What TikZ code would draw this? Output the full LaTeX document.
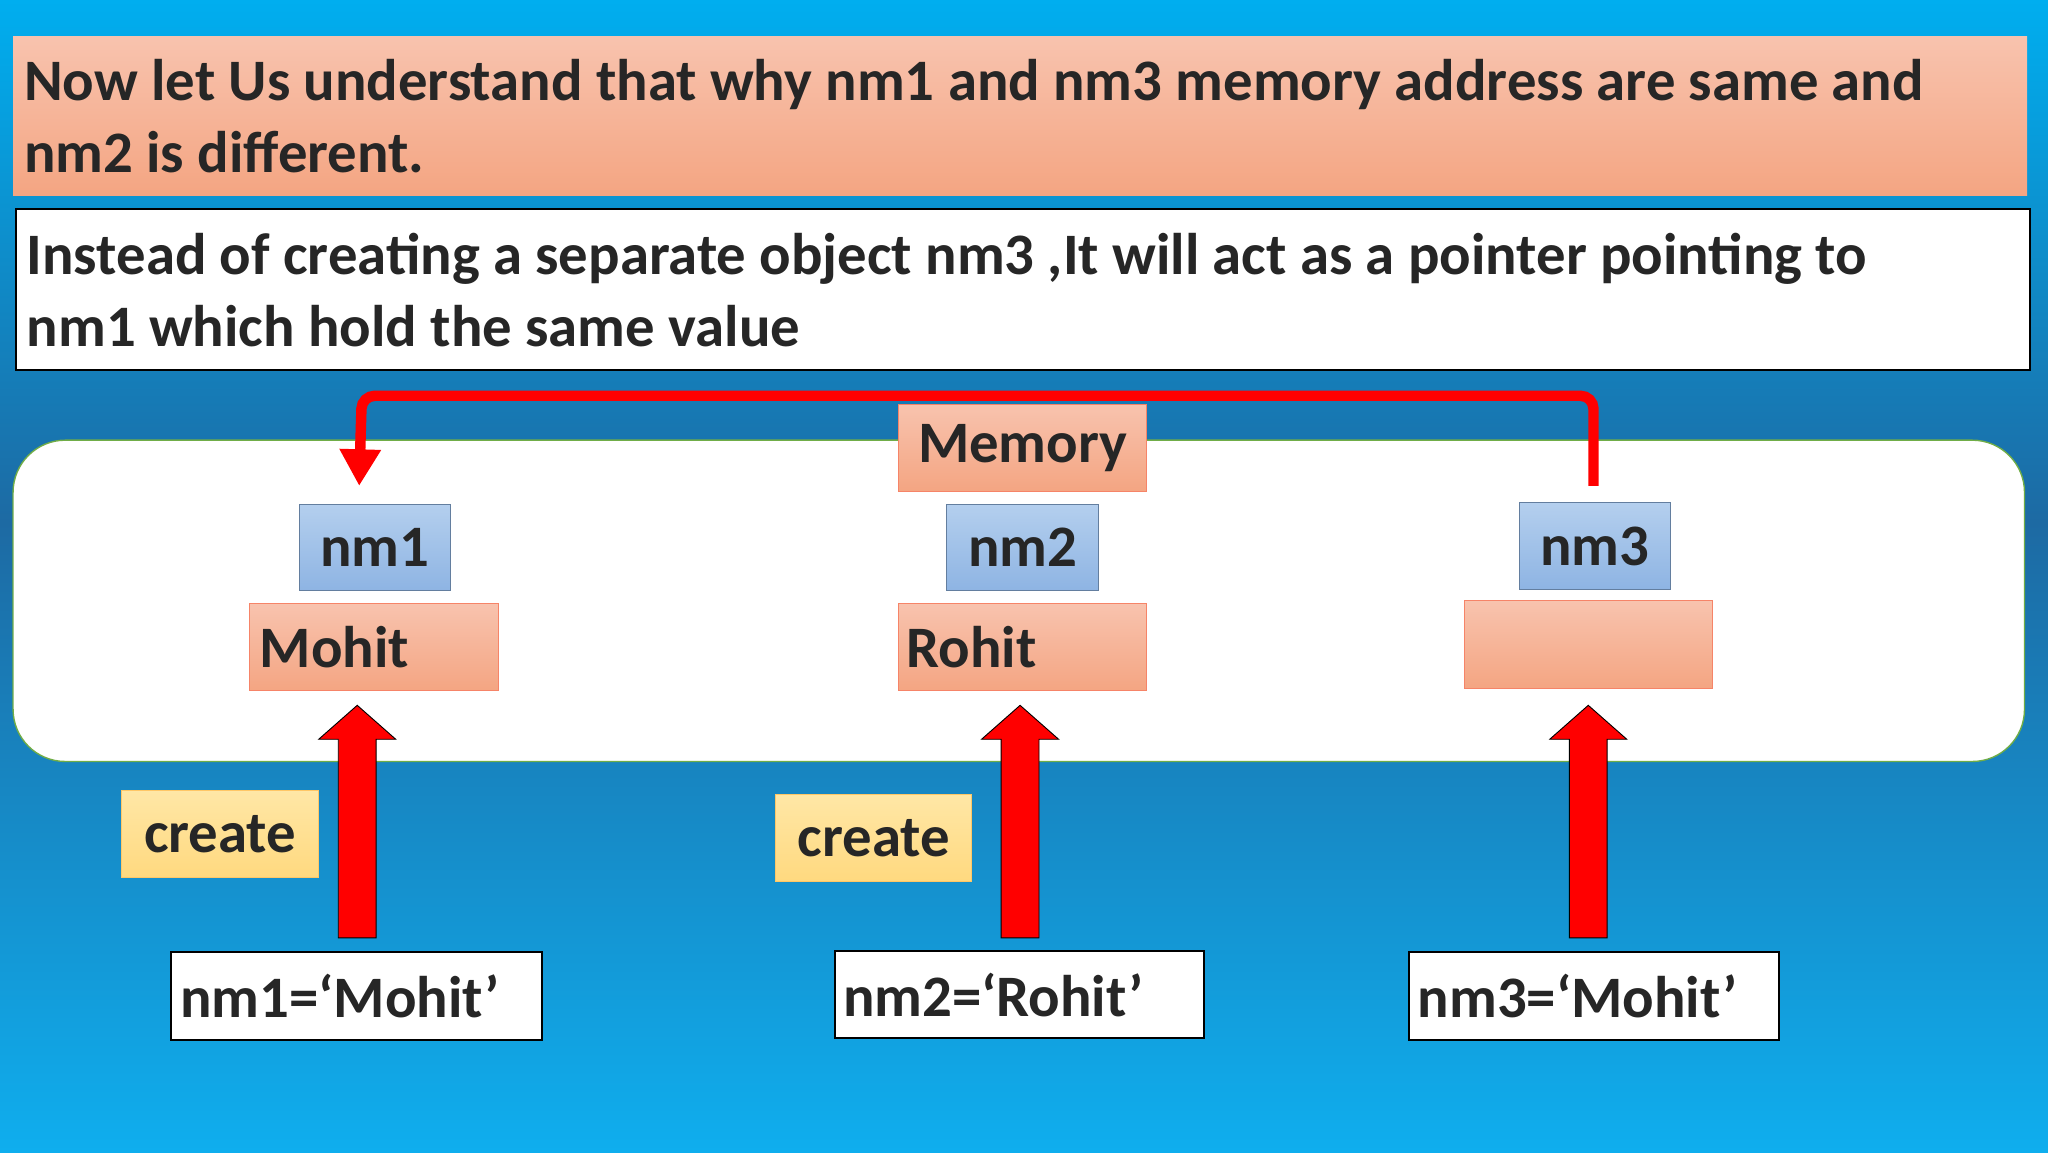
\documentclass[tikz,border=0pt]{standalone}
\usepackage{fontspec}
\setmainfont{Carlito}
\usetikzlibrary{arrows.meta}
\definecolor{salA}{HTML}{F8C3AE}\definecolor{salB}{HTML}{F4A582}
\definecolor{bluA}{HTML}{B4CFEE}\definecolor{bluB}{HTML}{8EB4E3}
\definecolor{yel}{HTML}{FFD97F}\definecolor{yelA}{HTML}{FFE7A6}
\definecolor{bgT}{HTML}{00AEEF}\definecolor{bgM}{HTML}{1D6AA3}\definecolor{bgB}{HTML}{0FAEEE}
\definecolor{grn}{HTML}{70AD47}\definecolor{arr}{HTML}{FF0000}
\tikzset{x=0.05cm,y=-0.05cm,
 txt/.style={font=\bfseries\fontsize{64}{78}\selectfont,text=black!85},
 sal/.style={draw=salB!80!red,line width=1pt,top color=salA,bottom color=salB},
 blu/.style={draw=bluB!70!black,line width=1pt,top color=bluA,bottom color=bluB},
 yb/.style={draw=yel!80!orange,line width=1pt,top color=yelA,bottom color=yel},
 wb/.style={draw=black,line width=2pt,fill=white},
 up/.style={draw=black,line width=1pt,fill=arr}}
\newcommand{\uparr}[1]{\draw[up] (#1) ++(-14.5,0) -- ++(0,-152) -- ++(-15,0) -- ++(29.5,-26) -- ++(29.5,26) -- ++(-15,0) -- ++(0,152) -- cycle;}
\begin{document}
\begin{tikzpicture}
\shade[top color=bgT,bottom color=bgM] (0,0) rectangle (1568,400);
\shade[top color=bgM,bottom color=bgB] (0,400) rectangle (1568,882);
\useasboundingbox (0,0) rectangle (1568,882);
\path[sal,draw=none] (10,28) rectangle (1552,150);
\node[txt,anchor=west,align=left] (title) at (16,89) {Now let Us understand that why nm1 and nm3 memory address are same and\\nm2 is different.};
\draw[wb] (12,160) rectangle (1554,283);
\node[txt,anchor=west,align=left] (info) at (18,222) {Instead of creating a separate object nm3 ,It will act as a pointer pointing to\\nm1 which hold the same value};
\draw[draw=grn,line width=1.5pt,fill=white,rounded corners=40*0.05cm] (10,337) rectangle (1550,583);
\node[sal,txt,minimum width=190*0.05cm,minimum height=66*0.05cm,inner sep=0pt] (mem) at (783,343) {Memory};
\node[blu,txt,minimum width=116*0.05cm,minimum height=66*0.05cm,inner sep=0pt] (n1) at (287,419) {nm1};
\node[blu,txt,minimum width=116*0.05cm,minimum height=66*0.05cm,inner sep=0pt] (n2) at (783,419) {nm2};
\node[blu,txt,minimum width=116*0.05cm,minimum height=66*0.05cm,inner sep=0pt] (n3) at (1221,418) {nm3};
\node[sal,txt,minimum width=191*0.05cm,minimum height=67*0.05cm,inner sep=0pt,text width=175*0.05cm,align=left] (v1) at (286.5,495.5) {Mohit};
\node[sal,txt,minimum width=190*0.05cm,minimum height=67*0.05cm,inner sep=0pt,text width=178*0.05cm,align=left] (v2) at (783,495.5) {Rohit};
\node[sal,txt,minimum width=190*0.05cm,minimum height=67*0.05cm,inner sep=0pt] (v3) at (1216,493.5) {};
\coordinate (a1) at (273.5,718); \uparr{a1}
\coordinate (a2) at (781,718); \uparr{a2}
\coordinate (a3) at (1216,718); \uparr{a3}
\node[yb,txt,minimum width=151*0.05cm,minimum height=67*0.05cm,inner sep=0pt] (c1) at (168.5,638.5) {create};
\node[yb,txt,minimum width=150*0.05cm,minimum height=67*0.05cm,inner sep=0pt] (c2) at (669,641.5) {create};
\node[wb,txt,minimum width=284*0.05cm,minimum height=67*0.05cm,inner sep=0pt,text width=270*0.05cm,align=left] (b1) at (273,762.5) {nm1=‘Mohit’};
\node[wb,txt,minimum width=283*0.05cm,minimum height=67*0.05cm,inner sep=0pt,text width=270*0.05cm,align=left] (b2) at (780.5,761.5) {nm2=‘Rohit’};
\node[wb,txt,minimum width=283*0.05cm,minimum height=67*0.05cm,inner sep=0pt,text width=270*0.05cm,align=left] (b3) at (1220.5,762.5) {nm3=‘Mohit’};
\coordinate (s) at (1220,372);
\coordinate (e) at (275,372);
\draw[arr,line width=8*0.05cm,rounded corners=10*0.05cm,-{Triangle[length=28*0.05cm,width=30*0.05cm]}] (s) -- (1220,303) -- (277,303) -- (e);
\end{tikzpicture}
\end{document}
